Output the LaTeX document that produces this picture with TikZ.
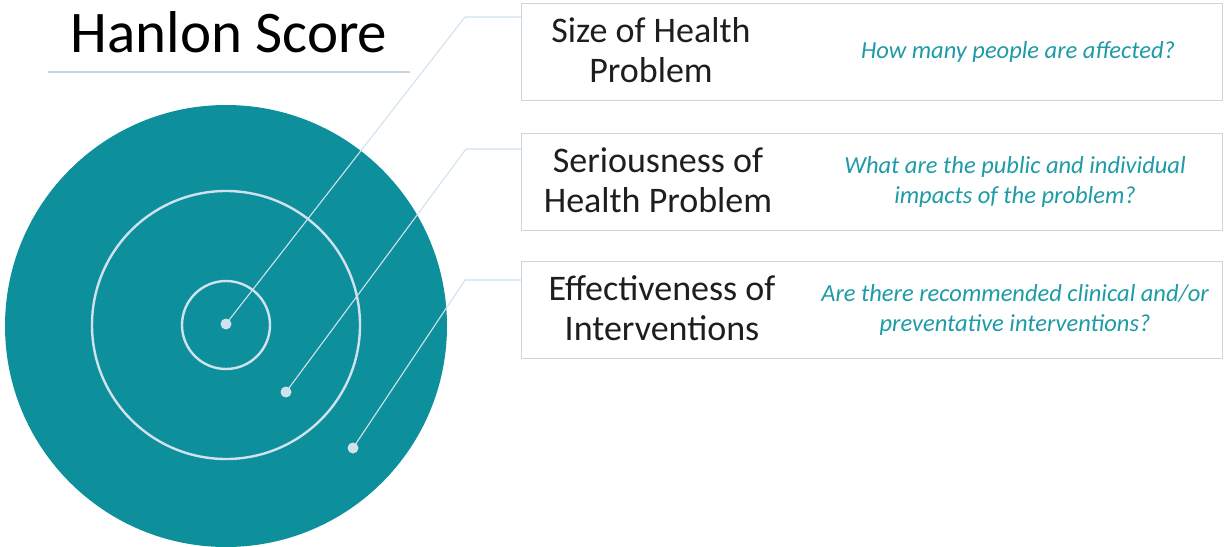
\documentclass[tikz,border=0pt]{standalone}
\usepackage{fontspec}
\setmainfont{Carlito}
\definecolor{targetteal}{HTML}{0E909C}
\definecolor{ringblue}{HTML}{CFE2EE}
\definecolor{boxgray}{HTML}{C6D6E2}
\definecolor{askteal}{HTML}{1E9BA6}
\definecolor{namegray}{HTML}{1E1E1E}

\begin{document}
\begin{tikzpicture}[x=1pt,y=-1pt,
  ring/.style={draw=ringblue, line width=2.4pt},
  lead/.style={draw=ringblue, line width=1.1pt},
  dot/.style={circle, fill=ringblue, inner sep=0pt, minimum size=11pt},
  factor/.style={draw=boxgray, line width=1.4pt, minimum width=701pt, minimum height=97pt, anchor=north west},
  factorname/.style={align=center, text=namegray, font=\fontsize{36}{40}\selectfont},
  question/.style={align=center, text=askteal, font=\itshape\fontsize{24.5}{30}\selectfont}]
\useasboundingbox (0,0) rectangle (1225,546);

% title
\node[font=\fontsize{59}{64}\selectfont, anchor=base] (title) at (229,52) {Hanlon Score};
\draw[boxgray, line width=1.2pt] (48,72) -- (410,72);

% target
\fill[targetteal] (226,326) circle (221);
\draw[ring] (226,325) circle (134);
\draw[ring] (226,325) circle (44);
\node[dot] (inner) at (226,324) {};
\node[dot] (middle) at (286,392) {};
\node[dot] (outer) at (353,448) {};

% factor boxes
\node[factor] (size) at (521,3) {};
\node[factor] (serious) at (521,133) {};
\node[factor] (effect) at (521,261) {};

\node[factorname] at ([xshift=130pt,yshift=2pt]size.west) {Size of Health\\Problem};
\node[question] at ([xshift=497pt]size.west) {How many people are affected?};
\node[factorname] at ([xshift=137pt,yshift=2pt]serious.west) {Seriousness of\\Health Problem};
\node[question] at ([xshift=494pt]serious.west) {What are the public and individual\\impacts of the problem?};
\node[factorname] at ([xshift=141pt,yshift=2pt]effect.west) {Effectiveness of\\Interventions};
\node[question] at ([xshift=494pt]effect.west) {Are there recommended clinical and/or\\preventative interventions?};

% leaders
\coordinate (kink1) at (465,17);
\coordinate (kink2) at (466,149);
\coordinate (kink3) at (465,280);
\draw[lead] (inner.center) -- (kink1) -- (kink1 -| size.west);
\draw[lead] (middle.center) -- (kink2) -- (kink2 -| serious.west);
\draw[lead] (outer.center) -- (kink3) -- (kink3 -| effect.west);
\end{tikzpicture}
\end{document}
